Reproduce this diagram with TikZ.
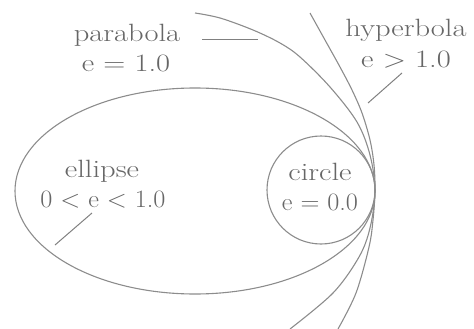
\documentclass[tikz,border=0pt]{standalone}
\newcommand{\widetxt}[1]{\scalebox{1.22}[1]{#1}}
\begin{document}
\begin{tikzpicture}[x=1pt,y=-1pt,
  curve/.style={draw=black!45, line width=1.1pt},
  leader/.style={draw=black!50, line width=1.0pt},
  lbl/.style={text=black!60, anchor=base, inner sep=0pt, font=\fontsize{25}{30}\selectfont}]
\useasboundingbox (0,0) rectangle (474,329);
% conics
\draw[curve] (195,191) ellipse [x radius=180, y radius=103];
\draw[curve] (321,190) circle [radius=54];
\draw[curve] plot[smooth, tension=0.55] coordinates {(195,13) (220,18) (253,30) (280,43) (300,57) (330,87) (357,122) (370,155) (375,191) (370,228) (359,257) (333,293) (290,329)};
\draw[curve] plot[smooth, tension=0.55] coordinates {(310,13) (325,40) (340,67) (352,90) (362,113) (370,140) (374,165) (375,191) (373,220) (369,247) (356,293) (338,329)};
% labels
\node[lbl] (parab) at (127,42) {\widetxt{parabola}};
\node[lbl] (parabe) at (126,72) {\widetxt{e = 1.0}};
\node[lbl] (hyper) at (406,37) {\widetxt{hyperbola}};
\node[lbl] (hypere) at (406,67) {\widetxt{e > 1.0}};
\node[lbl] (ell) at (102,177) {\widetxt{ellipse}};
\node[lbl] (elle) at (103,207) {\scalebox{1.05}[1]{0 < e < 1.0}};
\node[lbl] (circ) at (320,180) {\widetxt{circle}};
\node[lbl] (circe) at (320,210) {\scalebox{1.05}[1]{e = 0.0}};
% leaders
\coordinate (pa1) at (202,40);
\coordinate (pa2) at (258,40);
\coordinate (hy1) at (402,73);
\coordinate (hy2) at (368,103);
\coordinate (el1) at (92,213);
\coordinate (el2) at (55,245);
\draw[leader] (pa1) -- (pa2);
\draw[leader] (hy1) -- (hy2);
\draw[leader] (el1) -- (el2);
\end{tikzpicture}
\end{document}
